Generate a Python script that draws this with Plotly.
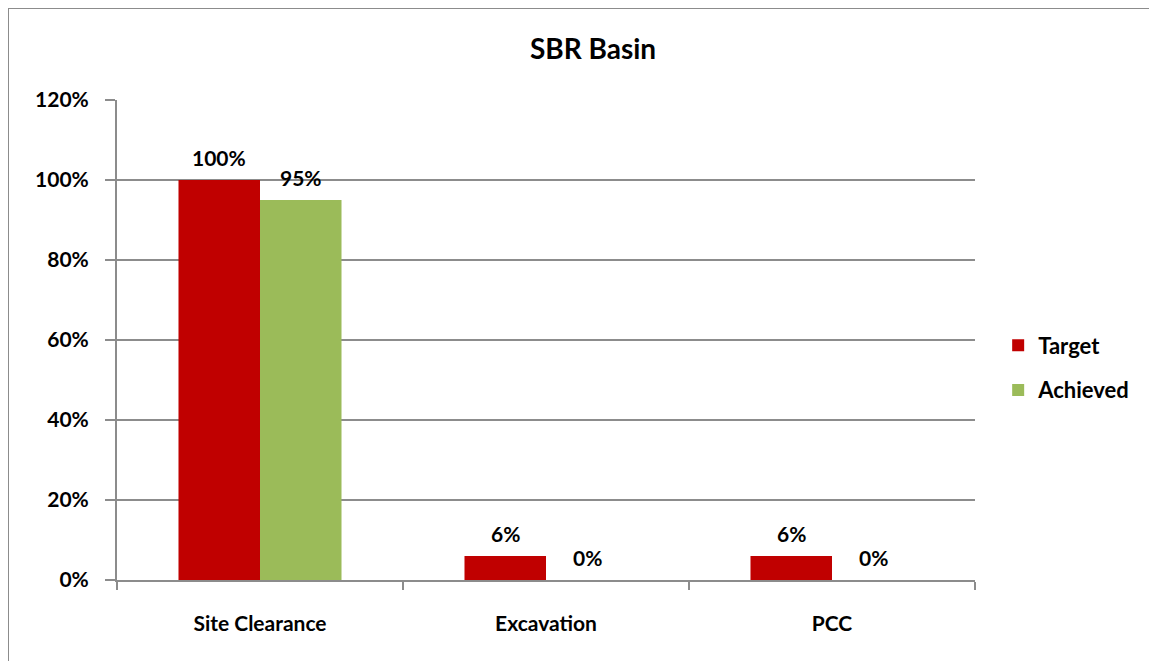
import plotly.graph_objects as go

categories = ["Site Clearance", "Excavation", "PCC"]
target = [1.00, 0.06, 0.06]
achieved = [0.95, 0.0, 0.0]
series_names = ["Target", "Achieved"]
tick_vals = [0, 0.2, 0.4, 0.6, 0.8, 1.0, 1.2]

FONT = "Lato, Open Sans, sans-serif"
GRID = "#8c8c8c"
W, H = 1149, 653          # page has 8px body margin
ML, MR, MT, MB = 109, 182, 92, 81
PW, PH = W - ML - MR, H - MT - MB

fig = go.Figure()
series = [(series_names[0], target, "#C00000", "a", -41),
          (series_names[1], achieved, "#9BBB59", "b", 41)]
annotations = []
for name, vals, color, grp, dx in series:
    fig.add_trace(go.Bar(
        x=categories, y=vals, name=name, marker_color=color,
        marker_line_width=0, legendgroup=grp,
    ))
    for c, v in zip(categories, vals):
        annotations.append(dict(
            x=c, y=v, xref="x", yref="y", text=f"<b>{v:.0%}</b>", showarrow=False,
            xshift=dx, yshift=23, yanchor="middle", xanchor="center",
            font=dict(family=FONT, size=21, color="black"),
        ))

fig.update_layout(
    width=W, height=H,
    margin=dict(l=ML, r=MR, t=MT, b=MB),
    paper_bgcolor="white", plot_bgcolor="white",
    barmode="group", bargap=0.43, bargroupgap=0,
    title=dict(text="<b>SBR Basin</b>", x=(593 - 8) / W, xanchor="center", y=1 - 41 / H, yanchor="middle",
               font=dict(family=FONT, size=28, color="black")),
    font=dict(family=FONT, size=21, color="black"),
    legend=dict(x=1.027, xanchor="left", y=0.5 - 28 / PH, yanchor="middle",
                font=dict(family=FONT, size=22, color="black", weight="bold"),
                traceorder="grouped", tracegroupgap=13, itemwidth=30),
    showlegend=True,
    annotations=annotations,
    shapes=[dict(type="rect", xref="paper", yref="paper",
                 x0=-ML / PW, x1=1.5, y0=-0.5, y1=1 + (MT - 0) / PH,
                 line=dict(color="#8c8c8c", width=2), layer="below")],
)
fig.update_xaxes(
    showline=True, linecolor=GRID, linewidth=2,
    ticks="outside", tickson="boundaries", ticklen=8, tickcolor=GRID, tickwidth=2,
    ticklabelstandoff=24,
    tickfont=dict(family=FONT, size=21, color="black", weight="bold"),
    showgrid=False,
)
fig.update_yaxes(
    range=[0, 1.2], tickvals=tick_vals, tickformat=".0%",
    showline=True, linecolor=GRID, linewidth=2,
    ticks="outside", ticklen=10, tickcolor=GRID, tickwidth=2,
    ticklabelstandoff=12,
    showgrid=True, gridcolor=GRID, gridwidth=2,
    zeroline=False,
    tickfont=dict(family=FONT, size=21, color="black", weight="bold"),
)
fig.write_html("out.html")
